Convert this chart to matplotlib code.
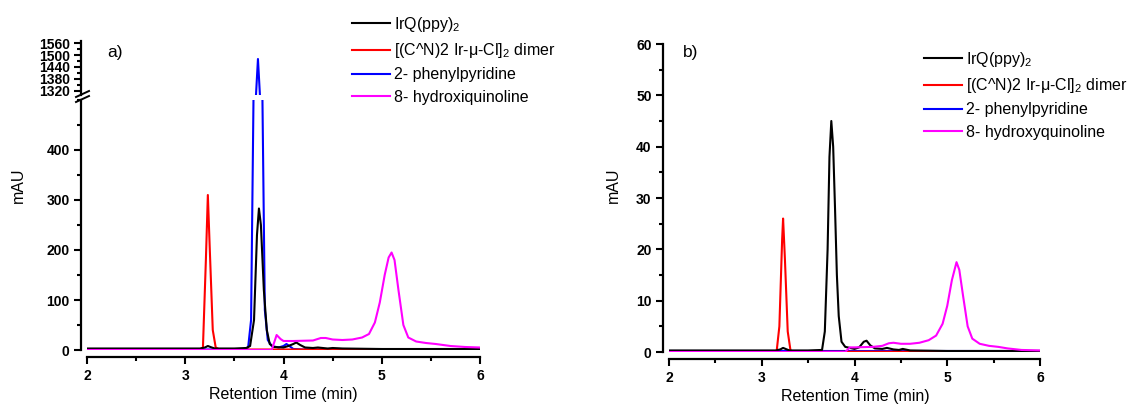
import numpy as np
import matplotlib.pyplot as plt
from matplotlib.ticker import MultipleLocator

plt.rcParams['font.family'] = ['Liberation Sans', 'DejaVu Sans']
plt.rcParams['mathtext.fontset'] = 'custom'
plt.rcParams['mathtext.rm'] = 'Liberation Sans'
plt.rcParams['mathtext.default'] = 'regular'

labels = ['IrQ(ppy)$_2$', '[(C^N)2 Ir-\u03bc-Cl]$_2$ dimer',
          '2- phenylpyridine', '8- hydroxiquinoline']
labels_b = ['IrQ(ppy)$_2$', '[(C^N)2 Ir-\u03bc-Cl]$_2$ dimer',
            '2- phenylpyridine', '8- hydroxyquinoline']
colors = ['black', '#ff0000', '#0000ff', '#ff00ff']

# panel a) data (mAU)
a_black_t = [2.0, 2.5, 3.0, 3.15, 3.2, 3.23, 3.27, 3.3, 3.5, 3.62, 3.66, 3.7, 3.73, 3.75, 3.77,
             3.8, 3.83, 3.86, 3.9, 4.0, 4.05, 4.1, 4.13, 4.17, 4.22, 4.3, 4.35, 4.45, 4.5, 4.6, 5.0, 6.0]
a_black_y = [3, 3, 3, 3, 5, 8, 5, 3, 3, 4, 8, 60, 230, 283, 250,
             120, 40, 12, 6, 5, 8, 12, 15, 10, 5, 4, 5, 3, 4, 3, 2, 2]
a_red_t = [2.0, 3.0, 3.15, 3.18, 3.21, 3.23, 3.25, 3.28, 3.31, 3.35, 4.0, 6.0]
a_red_y = [1, 1, 1, 5, 180, 310, 200, 40, 5, 1, 1, 1]
a_blue_t = [2.0, 3.0, 3.6, 3.64, 3.67, 3.7, 3.72, 3.74, 3.76, 3.78, 3.81, 3.84, 3.88,
            3.95, 4.0, 4.03, 4.06, 4.1, 4.2, 6.0]
a_blue_y = [1, 1, 1, 5, 60, 600, 1300, 1480, 1300, 600, 80, 20, 8,
            5, 8, 12, 8, 2, 1, 1]
a_mag_t = [2.0, 3.0, 3.88, 3.93, 3.97, 4.0, 4.1, 4.3, 4.38, 4.43, 4.5, 4.6, 4.7, 4.8, 4.87,
           4.93, 4.98, 5.03, 5.07, 5.1, 5.13, 5.17, 5.22, 5.27, 5.35, 5.45, 5.55, 5.7, 5.85, 6.0]
a_mag_y = [0, 0, 0, 30, 22, 18, 18, 19, 24, 24, 21, 20, 21, 25, 32,
           55, 95, 150, 185, 195, 180, 120, 50, 25, 17, 14, 12, 8, 6, 5]

# panel b) data (mAU)
b_black_t = [2.0, 2.5, 3.0, 3.15, 3.2, 3.23, 3.27, 3.3, 3.5, 3.65, 3.68, 3.71, 3.73, 3.75, 3.77,
             3.79, 3.81, 3.83, 3.86, 3.9, 4.0, 4.05, 4.1, 4.13, 4.17, 4.22, 4.3, 4.35, 4.42, 4.48,
             4.52, 4.6, 5.0, 6.0]
b_black_y = [0.3, 0.3, 0.3, 0.3, 0.5, 0.8, 0.5, 0.3, 0.3, 0.4, 4, 20, 38, 45, 40,
             28, 15, 7, 2, 1, 0.6, 0.9, 2.0, 2.2, 1.3, 0.7, 0.6, 0.8, 0.5, 0.4,
             0.6, 0.3, 0.2, 0.2]
b_red_t = [2.0, 3.0, 3.16, 3.19, 3.22, 3.23, 3.25, 3.28, 3.31, 3.35, 6.0]
b_red_y = [0.05, 0.05, 0.05, 5, 22, 26, 18, 4, 0.3, 0.05, 0.05]
b_blue_t = [2.0, 3.9, 6.0]
b_blue_y = [0.1, 0.1, 0.1]
b_mag_t = [2.0, 3.0, 3.9, 3.95, 4.0, 4.2, 4.3, 4.37, 4.42, 4.5, 4.6, 4.7, 4.8, 4.88,
           4.95, 5.0, 5.05, 5.1, 5.13, 5.17, 5.22, 5.27, 5.35, 5.45, 5.55, 5.65, 5.8, 6.0]
b_mag_y = [0, 0, 0, 0.9, 0.9, 1.0, 1.2, 1.7, 1.8, 1.6, 1.6, 1.8, 2.3, 3.2,
           5.5, 9, 14, 17.5, 16, 11, 5, 2.6, 1.6, 1.2, 1.0, 0.7, 0.4, 0.3]

W, H = 1127, 408
fig = plt.figure(figsize=(W / 100, H / 100), dpi=100)


def px(l, t, r, b):
    return [l / W, 1 - b / H, (r - l) / W, (b - t) / H]


def style(ax, bottom=True):
    ax.spines['top'].set_visible(False)
    ax.spines['right'].set_visible(False)
    ax.spines['left'].set_position(('outward', 4))
    ax.spines['left'].set_linewidth(1.6)
    ax.set_xlim(2, 6)
    if bottom:
        ax.spines['bottom'].set_position(('outward', 5))
        ax.spines['bottom'].set_linewidth(1.6)
        ax.xaxis.set_major_locator(MultipleLocator(1))
        ax.xaxis.set_minor_locator(MultipleLocator(0.5))
    else:
        ax.spines['bottom'].set_visible(False)
        ax.set_xticks([])
    ax.tick_params(which='major', direction='out', length=5, width=1.5, labelsize=10)
    ax.tick_params(which='minor', direction='out', length=3, width=1.5)
    for lab in ax.get_xticklabels() + ax.get_yticklabels():
        lab.set_fontweight('bold')


data_a = [(a_black_t, a_black_y), (a_red_t, a_red_y), (a_blue_t, a_blue_y), (a_mag_t, a_mag_y)]
data_b = [(b_black_t, b_black_y), (b_red_t, b_red_y), (b_blue_t, b_blue_y), (b_mag_t, b_mag_y)]
draw_order = [2, 1, 0, 3]
lw = 1.5

# panel a: broken y axis
ax_lo = fig.add_axes(px(87, 100, 480, 350))
ax_hi = fig.add_axes(px(87, 41, 480, 95))
handles = {}
for ax in (ax_lo, ax_hi):
    for i in draw_order:
        handles[i] = ax.plot(*data_a[i], color=colors[i], lw=lw)[0]
ax_lo.set_ylim(0, 500)
ax_lo.set_yticks([0, 100, 200, 300, 400])
ax_lo.yaxis.set_minor_locator(MultipleLocator(50))
ax_hi.set_ylim(1300, 1570)
ax_hi.set_yticks([1320, 1380, 1440, 1500, 1560])
ax_hi.yaxis.set_minor_locator(MultipleLocator(30))
style(ax_lo)
style(ax_hi, bottom=False)

# break marks on the y axis
for yb in (94, 99):
    fig.add_artist(plt.Line2D([76 / W, 89 / W], [1 - (yb + 3) / H, 1 - (yb - 3) / H],
                              color='black', lw=1.4))

fig.legend([handles[j] for j in range(4)], labels, loc='upper left',
           bbox_to_anchor=(352 / W, 1 - 15 / H),
           frameon=False, fontsize=11.5, handlelength=2.4, handletextpad=0.2,
           labelspacing=0.45, borderpad=0, borderaxespad=0)
fig.text(107 / W, 1 - 52 / H, 'a)', fontsize=12.5, va='center')
fig.text(18 / W, 1 - 185 / H, 'mAU', rotation=90, fontsize=11.5, ha='center', va='center')
fig.text(283 / W, 1 - 395 / H, 'Retention Time (min)', fontsize=11.5, ha='center', va='center')

# panel b
ax_b = fig.add_axes(px(669, 44, 1040, 352))
hb = {}
for i in draw_order:
    hb[i] = ax_b.plot(*data_b[i], color=colors[i], lw=lw)[0]
ax_b.set_ylim(0, 60)
ax_b.yaxis.set_major_locator(MultipleLocator(10))
ax_b.yaxis.set_minor_locator(MultipleLocator(5))
style(ax_b)
fig.legend([hb[j] for j in range(4)], labels_b, loc='upper left',
           bbox_to_anchor=(924 / W, 1 - 50 / H),
           frameon=False, fontsize=11.5, handlelength=2.4, handletextpad=0.2,
           labelspacing=0.45, borderpad=0, borderaxespad=0)
fig.text(683 / W, 1 - 52 / H, 'b)', fontsize=12.5, va='center')
fig.text(613 / W, 1 - 185 / H, 'mAU', rotation=90, fontsize=11.5, ha='center', va='center')
fig.text(855 / W, 1 - 397 / H, 'Retention Time (min)', fontsize=11.5, ha='center', va='center')

fig.savefig('out.png', dpi=100)
